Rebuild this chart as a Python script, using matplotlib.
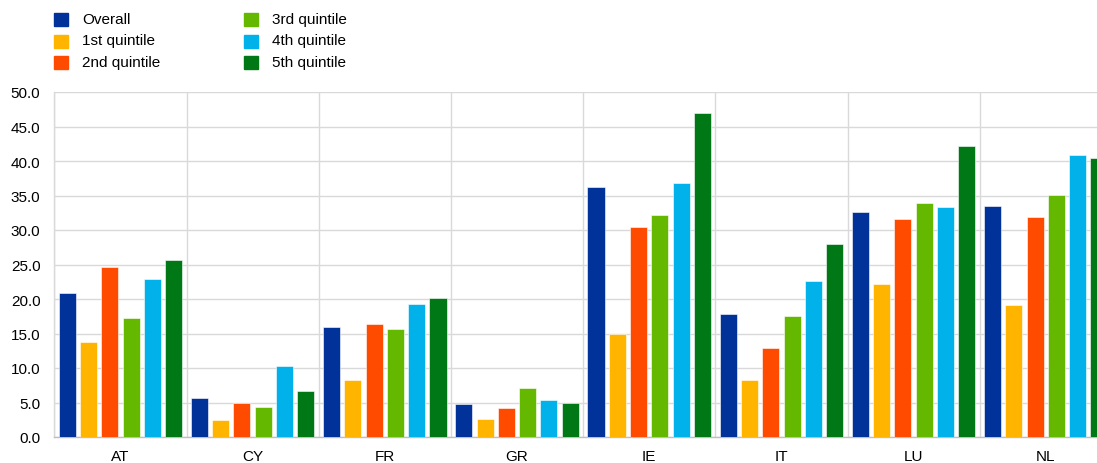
import matplotlib
matplotlib.use("Agg")
import matplotlib.pyplot as plt
import numpy as np
from matplotlib.patches import Rectangle

plt.rcParams['font.family'] = ['Liberation Sans', 'DejaVu Sans']

countries = ["AT", "CY", "FR", "GR", "IE", "IT", "LU", "NL"]
series_names = ["Overall", "1st quintile", "2nd quintile",
                "3rd quintile", "4th quintile", "5th quintile"]

overall = [20.8, 5.7, 15.9, 4.8, 36.2, 17.8, 32.6, 33.5]
q1 = [13.7, 2.4, 8.3, 2.6, 15.0, 8.3, 22.2, 19.2]
q2 = [24.7, 5.0, 16.4, 4.2, 30.4, 12.9, 31.6, 31.9]
q3 = [17.2, 4.4, 15.6, 7.1, 32.2, 17.5, 33.9, 35.1]
q4 = [22.9, 10.3, 19.3, 5.3, 36.8, 22.6, 33.3, 40.9]
q5 = [25.6, 6.6, 20.1, 4.9, 47.0, 28.0, 42.2, 40.4]

colors = ["#003299", "#FFB400", "#FF4B00", "#65B800", "#00B1EA", "#007816"]

W, H = 1097, 464
fig = plt.figure(figsize=(W / 100, H / 100), dpi=100)

# plot area (extends slightly past the right edge of the canvas)
left, right, bottom, top = 54.3, 1111.9, 438, 93
ax = fig.add_axes([left / W, (H - bottom) / H, (right - left) / W, (bottom - top) / H])

x = np.arange(len(countries))
step = 0.161
width = 0.129
all_series = [overall, q1, q2, q3, q4, q5]
for i, (vals, col) in enumerate(zip(all_series, colors)):
    ax.bar(x + (i - 2.5) * step, vals, width=width, color=col,
           edgecolor="white", linewidth=0.4, zorder=3)

ax.set_xlim(-0.5, len(countries) - 0.5)
ax.set_ylim(0, 50)
ax.set_yticks(np.arange(0, 50.1, 5))
ax.set_yticklabels([f"{v:.1f}" for v in np.arange(0, 50.1, 5)])
ax.set_xticks(x)
ax.set_xticklabels(countries)
ax.set_xticks(np.arange(-0.5, len(countries), 1), minor=True)

grid_col = "#d9d9d9"
ax.grid(True, axis="y", which="major", color=grid_col, linewidth=1.0, zorder=0)
ax.grid(True, axis="x", which="minor", color=grid_col, linewidth=1.0, zorder=0)
ax.grid(False, axis="x", which="major")

ax.tick_params(axis="both", which="both", length=0, labelsize=11, colors="#000000")
ax.tick_params(axis="y", pad=10)
ax.tick_params(axis="x", pad=9)
for s in ["top", "right"]:
    ax.spines[s].set_visible(False)
ax.spines["left"].set_color(grid_col)
ax.spines["bottom"].set_color("#bfbfbf")
ax.spines["left"].set_linewidth(1.0)
ax.spines["bottom"].set_linewidth(1.0)

# legend in two columns above the plot
col_x = [54, 244]
row_y = [20, 41.5, 63]
for k, (name, col) in enumerate(zip(series_names, colors)):
    cx = col_x[k // 3]
    cy = row_y[k % 3]
    fig.patches.append(Rectangle((cx / W, (H - cy - 7) / H), 14 / W, 13 / H,
                                 transform=fig.transFigure, color=col))
    fig.text((cx + 28) / W, (H - cy) / H, name, fontsize=11,
             va="center", ha="left", color="#000000")

fig.savefig("out.png", dpi=100)
